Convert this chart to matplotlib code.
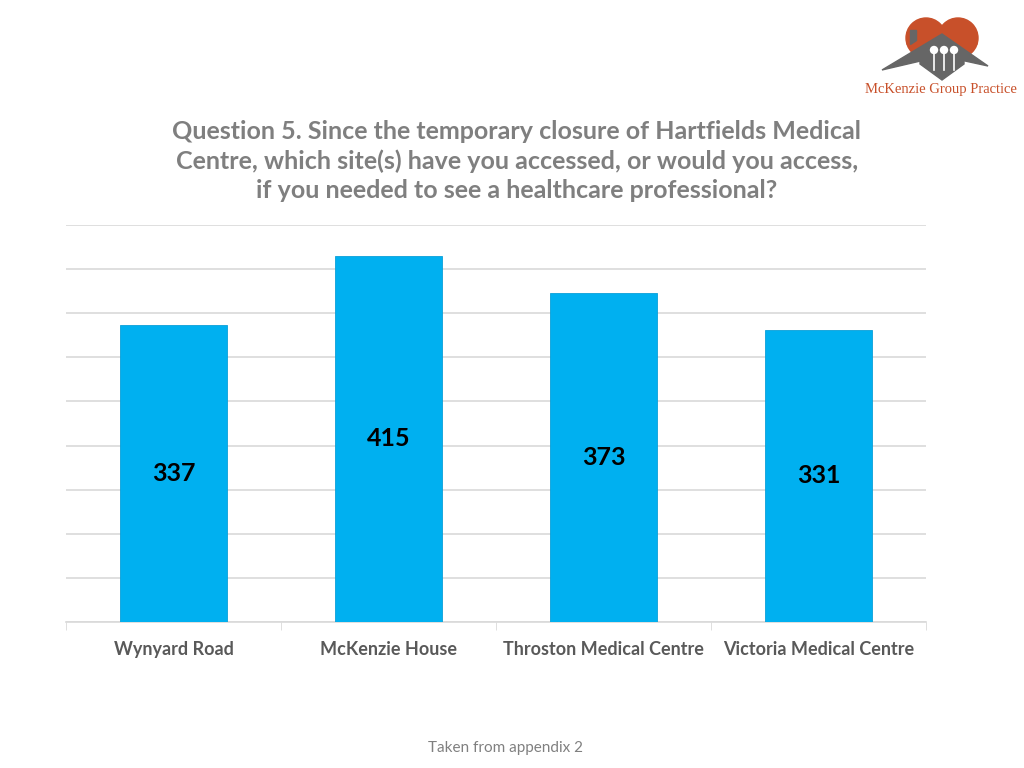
import numpy as np
import matplotlib.pyplot as plt
from matplotlib.patches import Circle, Polygon

sites = ['Wynyard Road', 'McKenzie House', 'Throston Medical Centre', 'Victoria Medical Centre']
responses = [337, 415, 373, 331]

title = ('Question 5. Since the temporary closure of Hartfields Medical\n'
         'Centre, which site(s) have you accessed, or would you access,\n'
         'if you needed to see a healthcare professional?')

plt.rcParams['font.family'] = ['Lato', 'DejaVu Sans']

fig = plt.figure(figsize=(10.24, 7.68), dpi=100)
ax = fig.add_axes([66/1024, 1 - 622/768, 860/1024, (622 - 225)/768])

x = np.arange(len(sites))
ax.bar(x, responses, width=0.5, color='#00b0f0', edgecolor='#0a9fd8', linewidth=0.6, zorder=3)
for xi, v in zip(x, responses):
    ax.text(xi, v / 2, str(v), ha='center', va='center', fontsize=18, fontweight='bold', color='black', zorder=4)

ax.set_xlim(-0.5, len(sites) - 0.5)
ax.set_ylim(0, 450)
ax.set_yticks(np.arange(0, 451, 50))
ax.yaxis.grid(True, color='#d9d9d9', linewidth=1.2, zorder=0)
ax.tick_params(axis='y', left=False, labelleft=False)
ax.set_xticks(x)
ax.set_xticklabels(sites, fontsize=13, fontweight='bold', color='#595959')
ax.tick_params(axis='x', length=0, pad=14)
ax.set_xticks(np.arange(-0.5, len(sites), 1), minor=True)
ax.tick_params(axis='x', which='minor', length=6, color='#d9d9d9')
for s in ['top', 'right', 'left']:
    ax.spines[s].set_visible(False)
ax.spines['bottom'].set_color('#d9d9d9')
ax.spines['bottom'].set_linewidth(1.2)

fig.text(517/1024, 1 - 161/768, title, ha='center', va='center', fontsize=18,
         fontweight='bold', color='#7f7f7f', linespacing=1.33)
fig.text(505/1024, 1 - 748/768, 'Taken from appendix 2', ha='center', va='center',
         fontsize=11, color='#808080')

# logo: heart with a house roof
lax = fig.add_axes([860/1024, 1 - 105/768, 164/1024, 95/768])
lax.set_xlim(0, 164)
lax.set_ylim(95, 0)
lax.axis('off')
orange = '#c8502a'
lax.add_patch(Circle((66, 28), 20, color=orange))
lax.add_patch(Circle((98, 28), 20, color=orange))
lax.add_patch(Polygon([[47, 34], [117, 34], [82, 68]], color=orange))
lax.add_patch(Polygon([[22, 60], [82, 24], [128, 56], [82, 46]], color='#666666'))
lax.add_patch(Polygon([[60, 44], [104, 44], [104, 54], [82, 70], [60, 54]], color='#666666'))
lax.add_patch(Polygon([[50, 34], [50, 20], [56, 20], [56, 30]], color='#666666'))
for cx in [74, 84, 94]:
    lax.add_patch(Circle((cx, 40), 3.5, color='white', zorder=3))
    lax.plot([cx, cx], [44, 60], color='white', linewidth=1.2, zorder=3)
lax.text(81, 79, 'McKenzie Group Practice', ha='center', va='center', fontsize=10.5,
         color=orange, family=['Liberation Serif', 'DejaVu Serif'])

fig.savefig('out.png', dpi=100)
